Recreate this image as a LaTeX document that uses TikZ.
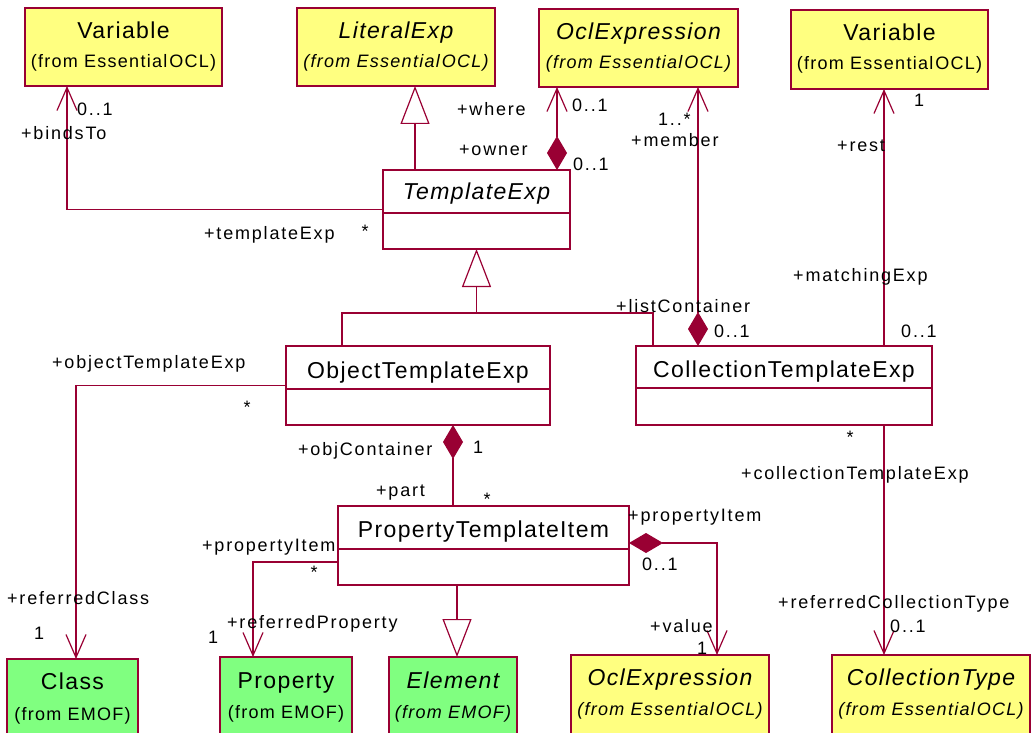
\documentclass[tikz,border=0pt]{standalone}
\usepackage{fontspec}
\setmainfont{Liberation Sans}
\newfontfamily\namefam[LetterSpace=6]{Liberation Sans}
\newfontfamily\subfam[LetterSpace=7]{Liberation Sans}
\newfontfamily\lblfam[LetterSpace=10]{Liberation Sans}
\usetikzlibrary{arrows.meta,calc}
\definecolor{umlred}{RGB}{153,0,51}
\definecolor{umlyellow}{RGB}{255,255,128}
\definecolor{umlgreen}{RGB}{128,255,128}
\tikzset{
  conn/.style={draw=umlred, line width=1.2pt},
  wbox/.style={conn, fill=white, rectangle, inner sep=0pt, outer sep=0pt, anchor=north west},
  ybox/.style={wbox, fill=umlyellow},
  gfill/.style={fill=umlgreen, rectangle, inner sep=0pt, outer sep=0pt, anchor=north west},
  yfill/.style={fill=umlyellow, rectangle, inner sep=0pt, outer sep=0pt, anchor=north west},
  assoc/.style={conn, -{Straight Barb[length=23pt,width=20pt]}},
  gen/.style={conn, -{Triangle[open,length=38pt,width=29pt]}},
  comp/.style={conn, {Diamond[length=34pt,width=20pt]}-},
  compassoc/.style={conn, {Diamond[length=34pt,width=20pt]}-{Straight Barb[length=23pt,width=20pt]}},
  lbl/.style={anchor=base west, inner sep=0pt, font=\lblfam\fontsize{18}{21}\selectfont},
  cname/.style={anchor=base, inner sep=0pt, font=\namefam\fontsize{23}{27}\selectfont},
  csub/.style={anchor=base, inner sep=0pt, font=\subfam\fontsize{18}{21}\selectfont},
}
\begin{document}
\begin{tikzpicture}[x=1pt,y=-1pt]
\useasboundingbox (0,0) rectangle (1031,733);

% top classes
\node[ybox, minimum width=197pt, minimum height=78pt] (var1) at (25,8) {};
\node[ybox, minimum width=198pt, minimum height=78pt] (lit) at (297,8) {};
\node[ybox, minimum width=199pt, minimum height=78pt] (oclT) at (539,9) {};
\node[ybox, minimum width=197pt, minimum height=79pt] (var2) at (791,10) {};

\node[cname] (var1n) at ([yshift=-31pt]var1.north) {Variable};
\node[csub] (var1s) at ([yshift=-60pt]var1.north) {(from Essential\kern2pt OCL)};
\node[cname] (litn) at ([yshift=-31pt]lit.north) {\itshape LiteralExp};
\node[csub] (lits) at ([yshift=-60pt]lit.north) {\itshape (from Essential\kern2pt OCL)};
\node[cname] (oclTn) at ([yshift=-31pt]oclT.north) {\itshape OclExpression};
\node[csub] (oclTs) at ([yshift=-60pt]oclT.north) {\itshape (from Essential\kern2pt OCL)};
\node[cname] (var2n) at ([yshift=-31pt]var2.north) {Variable};
\node[csub] (var2s) at ([yshift=-60pt]var2.north) {(from Essential\kern2pt OCL)};

% middle classes
\node[wbox, minimum width=187pt, minimum height=79pt] (tE) at (383,170) {};
\node[wbox, minimum width=264pt, minimum height=79pt] (ote) at (286,346) {};
\node[wbox, minimum width=296pt, minimum height=79pt] (cte) at (636,346) {};
\node[wbox, minimum width=291pt, minimum height=79pt] (pti) at (338,506) {};
\draw[conn] ([yshift=-43pt]tE.north west) -- ([yshift=-43pt]tE.north east);
\draw[conn] ([yshift=-43pt]ote.north west) -- ([yshift=-43pt]ote.north east);
\draw[conn] ([yshift=-42pt]cte.north west) -- ([yshift=-42pt]cte.north east);
\draw[conn] ([yshift=-43pt]pti.north west) -- ([yshift=-43pt]pti.north east);
\node[cname] (tEn) at ([yshift=-30pt]tE.north) {\itshape TemplateExp};
\node[cname] (oten) at ([yshift=-32pt]ote.north) {ObjectTemplateExp};
\node[cname] (cten) at ([yshift=-31pt]cte.north) {CollectionTemplateExp};
\node[cname] (ptin) at ([yshift=-31pt]pti.north) {PropertyTemplateItem};

% bottom classes (cut by the lower edge)
\node[gfill, minimum width=131pt, minimum height=74pt] (cls) at (7,659) {};
\node[gfill, minimum width=132pt, minimum height=76pt] (prop) at (220,657) {};
\node[gfill, minimum width=128pt, minimum height=76pt] (elem) at (389,657) {};
\node[yfill, minimum width=198pt, minimum height=78pt] (oclB) at (571,655) {};
\node[yfill, minimum width=198pt, minimum height=78pt] (ctype) at (832,655) {};
\foreach \b in {cls,prop,elem,oclB,ctype}{
  \draw[conn] (\b.south west) -- (\b.north west) -- (\b.north east) -- (\b.south east);
}
\node[cname] (clsn) at ([yshift=-30pt]cls.north) {Class};
\node[csub] (clss) at ([yshift=-61pt]cls.north) {(from EMOF)};
\node[cname] (propn) at ([yshift=-31pt]prop.north) {Property};
\node[csub] (props) at ([yshift=-61pt]prop.north) {(from EMOF)};
\node[cname] (elemn) at ([yshift=-31pt]elem.north) {\itshape Element};
\node[csub] (elems) at ([yshift=-61pt]elem.north) {\itshape (from EMOF)};
\node[cname] (oclBn) at ([yshift=-30pt]oclB.north) {\itshape OclExpression};
\node[csub] (oclBs) at ([yshift=-60pt]oclB.north) {\itshape (from Essential\kern2pt OCL)};
\node[cname] (ctypen) at ([yshift=-30pt]ctype.north) {\itshape CollectionType};
\node[csub] (ctypes) at ([yshift=-60pt]ctype.north) {\itshape (from Essential\kern2pt OCL)};

% connectors
\draw[assoc] (tE.west) -| ([xshift=42pt]var1.south west);
\coordinate (litg) at ([xshift=118pt]lit.south west);
\draw[gen] (tE.north -| litg) -- (litg);
\coordinate (wo) at ([xshift=18pt]oclT.south west);
\draw[compassoc] (tE.north -| wo) -- (wo);
\coordinate (mem) at ([xshift=62pt]cte.north west);
\draw[compassoc] (mem) -- (mem |- oclT.south);
\coordinate (rst) at ([xshift=-48pt]cte.north east);
\draw[assoc] (rst) -- (rst |- var2.south);
\coordinate (bar) at ([yshift=-64pt]tE.south);
\coordinate (g1) at ([xshift=56pt]ote.north west);
\coordinate (g2) at ([xshift=17pt]cte.north west);
\draw[conn] (g1) |- (bar) -| (g2);
\draw[gen] (bar) -- (tE.south);
\draw[assoc] (ote.west) -| ([xshift=69pt]cls.north west);
\coordinate (ocn) at ([xshift=167pt]ote.south west);
\draw[comp] (ocn) -- (ocn |- pti.north);
\draw[assoc] ([yshift=23pt]pti.south west) -| ([xshift=33pt]prop.north west);
\coordinate (eg) at ([xshift=119pt]pti.south west);
\draw[gen] (eg) -- (eg |- elem.north);
\draw[compassoc] ([yshift=-37pt]pti.north east) -| ([xshift=146pt]oclB.north west);
\coordinate (ctc) at ([xshift=-48pt]cte.south east);
\draw[assoc] (ctc) -- (ctc |- ctype.north);

% role names and multiplicities
\node[lbl] (l1) at (77,116) {0..1};
\node[lbl] (l2) at (21,140) {+bindsTo};
\node[lbl] (l3) at (204,239) {+templateExp};
\node[lbl, anchor=base] (l4) at (365,237) {*};
\node[lbl] (l5) at (457,116) {+where};
\node[lbl] (l6) at (572,112) {0..1};
\node[lbl] (l7) at (459,156) {+owner};
\node[lbl] (l8) at (573,171) {0..1};
\node[lbl] (l9) at (658,126) {1..*};
\node[lbl] (l10) at (631,147) {+member};
\node[lbl] (l11) at (914,107) {1};
\node[lbl] (l12) at (837,152) {+rest};
\node[lbl] (l13) at (793,281) {+matchingExp};
\node[lbl] (l14) at (616,312) {+listContainer};
\node[lbl] (l15) at (714,337) {0..1};
\node[lbl] (l16) at (901,337) {0..1};
\node[lbl, anchor=base] (l17) at (850,443) {*};
\node[lbl] (l18) at (741,479) {+collectionTemplateExp};
\node[lbl] (l19) at (52,368) {+objectTemplateExp};
\node[lbl, anchor=base] (l20) at (247,413) {*};
\node[lbl] (l21) at (298,455) {+objContainer};
\node[lbl] (l22) at (473,453) {1};
\node[lbl] (l23) at (376,496) {+part};
\node[lbl, anchor=base] (l24) at (487,505) {*};
\node[lbl] (l25) at (202,551) {+propertyItem};
\node[lbl, anchor=base] (l26) at (314,578) {*};
\node[lbl] (l27) at (7,604) {+referredClass};
\node[lbl] (l28) at (34,639) {1};
\node[lbl] (l29) at (227,628) {+referredProperty};
\node[lbl] (l30) at (208,643) {1};
\node[lbl] (l31) at (628,521) {+propertyItem};
\node[lbl] (l32) at (642,570) {0..1};
\node[lbl] (l33) at (650,632) {+value};
\node[lbl] (l34) at (697,654) {1};
\node[lbl] (l35) at (778,608) {+referredCollectionType};
\node[lbl] (l36) at (890,632) {0..1};
\end{tikzpicture}
\end{document}
